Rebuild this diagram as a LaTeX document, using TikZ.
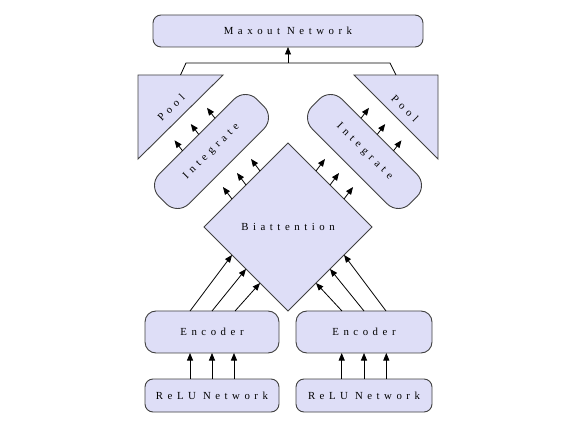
\documentclass[tikz,border=0pt]{standalone}
\usepackage{fontspec}
\setmainfont{Liberation Serif}
\newfontfamily\lblfont[LetterSpace=42]{Liberation Serif}
\usetikzlibrary{arrows.meta,calc,shapes.geometric}
\definecolor{boxfill}{RGB}{222,222,247}
\definecolor{boxline}{RGB}{64,64,64}
\newcommand{\wgap}{\hspace{7pt}}
\begin{document}
\begin{tikzpicture}[x=1pt,y=1pt,
  shapeline/.style={draw=boxline, fill=boxfill, line width=0.9pt},
  box/.style={shapeline, rounded corners=#1, inner sep=0pt, outer sep=0pt},
  box/.default=8pt,
  lbl/.style={font=\lblfont\fontsize{10.8}{12}\selectfont, text=black},
  arr/.style={draw=black, line width=0.8pt, -{Triangle[length=7.5pt,width=6pt]}},
  wire/.style={draw=black, line width=0.8pt},
]
\useasboundingbox (0,0) rectangle (572,428);

% top box
\node[box, minimum width=270pt, minimum height=32pt, lbl] (maxout) at (288,397) {Maxout\wgap Network};

% bottom boxes
\node[box, minimum width=134pt, minimum height=33pt, lbl] (reluL) at (212,32.5) {ReLU\wgap Network};
\node[box, minimum width=136pt, minimum height=33pt, lbl] (reluR) at (364,32.5) {ReLU\wgap Network};
\node[box=11pt, minimum width=134pt, minimum height=42pt, lbl] (encL) at (212,96) {Encoder};
\node[box=11pt, minimum width=136pt, minimum height=42pt, lbl] (encR) at (364,96) {Encoder};

% diamond
\node[diamond, shapeline, aspect=1, minimum width=168pt, minimum height=168pt, inner sep=0pt, outer sep=0pt, lbl] (dia) at (288,201) {Biattention};

% integrate bands
\node[box=16pt, minimum width=138pt, minimum height=42pt, rotate=45, lbl] (intL) at (211.5,276.5) {Integrate};
\node[box=16pt, minimum width=138pt, minimum height=42pt, rotate=-45, lbl] (intR) at (364.5,276.5) {Integrate};

% pools
\coordinate (plA) at (138,353);
\coordinate (plB) at (223,353);
\coordinate (plC) at (138,269);
\coordinate (prA) at (354,353);
\coordinate (prB) at (438,353);
\coordinate (prC) at (438,269);
\path[shapeline, line join=miter] (plA) -- (plB) -- (plC) -- cycle;
\path[shapeline, line join=miter] (prA) -- (prB) -- (prC) -- cycle;
\node[lbl, rotate=45] (poolL) at (171,320.5) {Pool};
\node[lbl, rotate=-45] (poolR) at (405,319.5) {Pool};

% bus to maxout
\coordinate (poolLtop) at ($(plA)!0.5!(plB)$);
\coordinate (poolRtop) at ($(prA)!0.5!(prB)$);
\coordinate (busL) at (186,365);
\coordinate (busR) at (390,365);
\draw[wire] (poolLtop) -- (busL) -- (busR) -- (poolRtop);
\draw[arr] (busL -| maxout.south) -- (maxout.south);

% relu -> encoder
\foreach \f in {0.336,0.5,0.664}{
  \draw[arr] ($(reluL.north west)!\f!(reluL.north east)$) -- ($(encL.south west)!\f!(encL.south east)$);
  \draw[arr] ($(reluR.north west)!\f!(reluR.north east)$) -- ($(encR.south west)!\f!(encR.south east)$);
}

% encoder -> diamond
\draw[arr] ($(encL.north west)!0.336!(encL.north east)$) -- ($(dia.west)!0.333!(dia.south)$);
\draw[arr] ($(encL.north west)!0.5!(encL.north east)$) -- ($(dia.west)!0.5!(dia.south)$);
\draw[arr] ($(encL.north west)!0.672!(encL.north east)$) -- ($(dia.west)!0.667!(dia.south)$);
\draw[arr] ($(encR.north west)!0.338!(encR.north east)$) -- ($(dia.east)!0.667!(dia.south)$);
\draw[arr] ($(encR.north west)!0.5!(encR.north east)$) -- ($(dia.east)!0.5!(dia.south)$);
\draw[arr] ($(encR.north west)!0.662!(encR.north east)$) -- ($(dia.east)!0.333!(dia.south)$);

% diamond -> integrate
\foreach \f in {0.333,0.5,0.667}{
  \draw[arr] ($(dia.west)!\f!(dia.north)$) -- ++(-9,12);
  \draw[arr] ($(dia.east)!\f!(dia.north)$) -- ++(9,12);
}

% integrate -> pool
\foreach \f in {0.355,0.522,0.688}{
  \draw[arr] ($(intL.north west)!\f!(intL.north east)$) -- ++(-8,10.5);
}
\foreach \f in {0.312,0.478,0.645}{
  \draw[arr] ($(intR.north west)!\f!(intR.north east)$) -- ++(8,10.5);
}
\end{tikzpicture}
\end{document}
